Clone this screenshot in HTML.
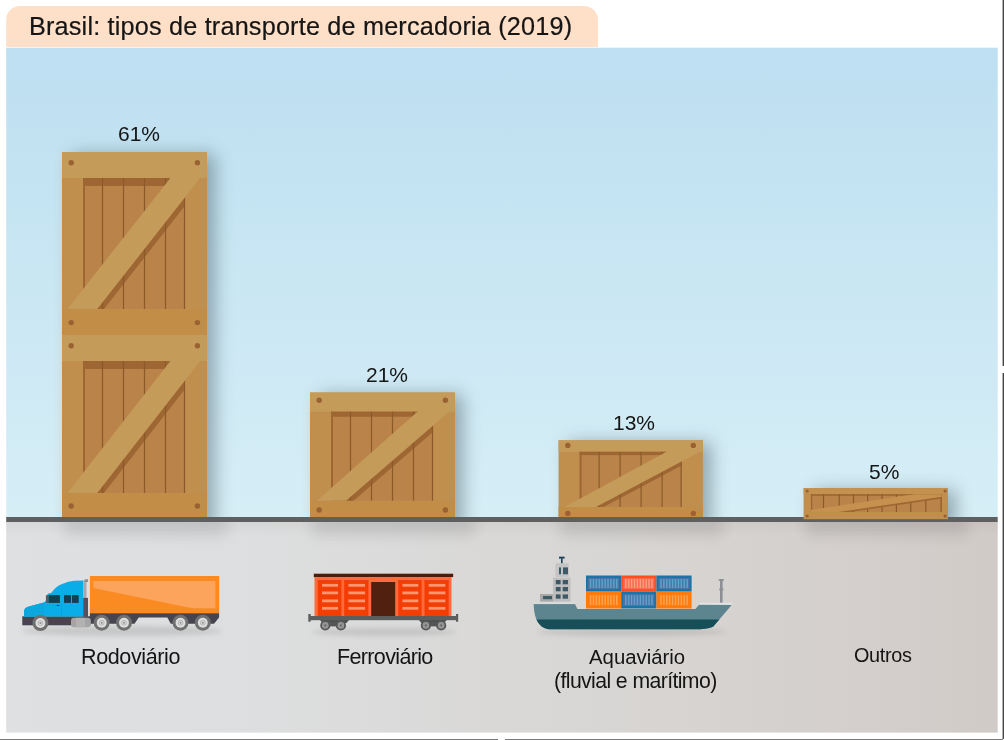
<!DOCTYPE html>
<html><head><meta charset="utf-8">
<style>
html,body{margin:0;padding:0;width:1004px;height:740px;overflow:hidden;background:#fff;}
body{position:relative;font-family:"Liberation Sans",sans-serif;color:#151515;}
.t{position:absolute;white-space:nowrap;line-height:1;will-change:transform;}
</style></head><body>
<svg width="1004" height="740" style="position:absolute;left:0;top:0">
<defs>
<linearGradient id="sky" x1="0" y1="0" x2="0" y2="1">
<stop offset="0" stop-color="#BDDFF1"/><stop offset="1" stop-color="#D6EEF6"/>
</linearGradient>
<linearGradient id="gnd" x1="0" y1="0" x2="1" y2="0">
<stop offset="0" stop-color="#DFE0E1"/><stop offset="0.25" stop-color="#DDDEDF"/><stop offset="0.6" stop-color="#D8D6D4"/><stop offset="1" stop-color="#D1CBC8"/>
</linearGradient>
<linearGradient id="gsh" x1="0" y1="0" x2="0" y2="1">
<stop offset="0" stop-color="#000" stop-opacity="0.04"/><stop offset="1" stop-color="#000" stop-opacity="0"/>
</linearGradient>
<filter id="blur6" x="-50%" y="-50%" width="200%" height="200%"><feGaussianBlur stdDeviation="6"/></filter>
<filter id="blur8" x="-50%" y="-100%" width="200%" height="300%"><feGaussianBlur stdDeviation="7"/></filter><filter id="blur9" x="-50%" y="-50%" width="200%" height="200%"><feGaussianBlur stdDeviation="9"/></filter><filter id="blur3" x="-50%" y="-200%" width="200%" height="500%"><feGaussianBlur stdDeviation="2.5"/></filter>
<clipPath id="skyclip"><rect x="6" y="47" width="991" height="470"/></clipPath><clipPath id="gndclip"><rect x="6" y="522" width="991" height="211"/></clipPath>
</defs>
<path d="M6.2,47 V20 A14,14 0 0 1 20.2,6 H584 A14,14 0 0 1 598,20 V47 Z" fill="#FEDFC8"/>
<rect x="6.2" y="47.7" width="991.5" height="469.3" fill="url(#sky)"/>
<rect x="6.2" y="522" width="991.5" height="210.6" fill="url(#gnd)"/>
<rect x="6.2" y="522" width="991.5" height="14" fill="url(#gsh)"/>
<rect x="6.2" y="517" width="991.5" height="5" fill="#5F5F5F"/>
<rect x="1002.6" y="0" width="1.4" height="366" fill="#444"/>
<rect x="1002.6" y="373" width="1.4" height="366" fill="#444"/>
<rect x="0" y="739" width="498" height="1" fill="#7a7a7a"/>
<rect x="505" y="739" width="498" height="1" fill="#7a7a7a"/>
<rect x="72" y="154" width="143" height="377" fill="#34474F" opacity="0.42" filter="url(#blur9)" clip-path="url(#skyclip)"/><rect x="64" y="512" width="163" height="24" fill="#000" opacity="0.09" filter="url(#blur8)" clip-path="url(#gndclip)"/>
<rect x="320" y="394.5" width="143" height="136.5" fill="#34474F" opacity="0.42" filter="url(#blur9)" clip-path="url(#skyclip)"/><rect x="312" y="512" width="163" height="24" fill="#000" opacity="0.09" filter="url(#blur8)" clip-path="url(#gndclip)"/>
<rect x="568.2" y="442.3" width="143" height="88.7" fill="#34474F" opacity="0.42" filter="url(#blur9)" clip-path="url(#skyclip)"/><rect x="560.2" y="512" width="163" height="24" fill="#000" opacity="0.09" filter="url(#blur8)" clip-path="url(#gndclip)"/>
<rect x="813.6" y="490.1" width="142.4" height="42" fill="#34474F" opacity="0.42" filter="url(#blur9)" clip-path="url(#skyclip)"/><rect x="805.6" y="512" width="162.4" height="24" fill="#000" opacity="0.09" filter="url(#blur8)" clip-path="url(#gndclip)"/>
<rect x="62" y="152" width="145" height="183" fill="#C08F4E"/>
<rect x="62" y="152" width="145" height="26" fill="#C59B5A"/>
<rect x="62" y="309" width="145" height="26" fill="#C18D47"/>
<rect x="83" y="178" width="102" height="131" fill="#B98349"/>
<rect x="83" y="178" width="102" height="8" fill="#9D6633"/>
<rect x="83" y="178" width="2" height="131" fill="#9D6633"/>
<clipPath id="c62152"><rect x="83" y="178" width="102" height="131"/></clipPath>
<polygon clip-path="url(#c62152)" points="170.4,186.5 200.2,186.5 97.3,317.5 67.4,317.5" fill="#9D6633"/>
<rect x="101.9" y="178" width="1.2" height="131" fill="#8C5A2A"/>
<rect x="122.9" y="178" width="1.2" height="131" fill="#8C5A2A"/>
<rect x="143.9" y="178" width="1.2" height="131" fill="#8C5A2A"/>
<rect x="164.9" y="178" width="1.2" height="131" fill="#8C5A2A"/>
<rect x="183.9" y="178" width="1.2" height="131" fill="#8C5A2A"/>
<polygon points="171.19,177 200.99,177 97.3,309 67.4,309" fill="#C59B5A"/>
<circle cx="71.2" cy="162.8" r="2.7" fill="#9A6232"/>
<circle cx="71.2" cy="322.6" r="2.7" fill="#9A6232"/>
<circle cx="197.4" cy="162.8" r="2.7" fill="#9A6232"/>
<circle cx="197.4" cy="322.6" r="2.7" fill="#9A6232"/>
<rect x="62" y="335" width="145" height="182" fill="#C08F4E"/>
<rect x="62" y="335" width="145" height="26" fill="#C59B5A"/>
<rect x="62" y="493" width="145" height="24" fill="#C18D47"/>
<rect x="83" y="361" width="102" height="132" fill="#B98349"/>
<rect x="83" y="361" width="102" height="8" fill="#9D6633"/>
<rect x="83" y="361" width="2" height="132" fill="#9D6633"/>
<clipPath id="c62335"><rect x="83" y="361" width="102" height="132"/></clipPath>
<polygon clip-path="url(#c62335)" points="170.4,369.5 200.2,369.5 97.3,501.5 67.4,501.5" fill="#9D6633"/>
<rect x="101.9" y="361" width="1.2" height="132" fill="#8C5A2A"/>
<rect x="122.9" y="361" width="1.2" height="132" fill="#8C5A2A"/>
<rect x="143.9" y="361" width="1.2" height="132" fill="#8C5A2A"/>
<rect x="164.9" y="361" width="1.2" height="132" fill="#8C5A2A"/>
<rect x="183.9" y="361" width="1.2" height="132" fill="#8C5A2A"/>
<polygon points="171.18,360 200.98,360 97.3,493 67.4,493" fill="#C59B5A"/>
<circle cx="71.2" cy="345.8" r="2.7" fill="#9A6232"/>
<circle cx="71.2" cy="506" r="2.7" fill="#9A6232"/>
<circle cx="197.4" cy="345.8" r="2.7" fill="#9A6232"/>
<circle cx="197.4" cy="506" r="2.7" fill="#9A6232"/>
<rect x="310" y="392.5" width="145" height="124.5" fill="#C08F4E"/>
<rect x="310" y="392.5" width="145" height="19.2" fill="#C59B5A"/>
<rect x="310" y="500.7" width="145" height="16.3" fill="#C18D47"/>
<rect x="331" y="411.7" width="102" height="89.0" fill="#B98349"/>
<rect x="331" y="411.7" width="102" height="5" fill="#9D6633"/>
<rect x="331" y="411.7" width="2" height="89.0" fill="#9D6633"/>
<clipPath id="c310392"><rect x="331" y="411.7" width="102" height="89.0"/></clipPath>
<polygon clip-path="url(#c310392)" points="417.4,418.2 449.1,418.2 346,507.2 316.8,507.2" fill="#9D6633"/>
<rect x="349.9" y="411.7" width="1.2" height="89.0" fill="#8C5A2A"/>
<rect x="370.9" y="411.7" width="1.2" height="89.0" fill="#8C5A2A"/>
<rect x="391.9" y="411.7" width="1.2" height="89.0" fill="#8C5A2A"/>
<rect x="412.9" y="411.7" width="1.2" height="89.0" fill="#8C5A2A"/>
<rect x="431.9" y="411.7" width="1.2" height="89.0" fill="#8C5A2A"/>
<polygon points="418.53,410.7 450.26,410.7 346,500.7 316.8,500.7" fill="#C59B5A"/>
<circle cx="319.2" cy="400.2" r="2.7" fill="#9A6232"/>
<circle cx="319.2" cy="510.0" r="2.7" fill="#9A6232"/>
<circle cx="445.4" cy="400.2" r="2.7" fill="#9A6232"/>
<circle cx="445.4" cy="510.0" r="2.7" fill="#9A6232"/>
<rect x="558.6" y="440.3" width="144.3" height="76.7" fill="#C08F4E"/>
<rect x="558.6" y="440.3" width="144.3" height="11.5" fill="#C59B5A"/>
<rect x="558.6" y="507.0" width="144.3" height="10" fill="#C18D47"/>
<rect x="579.6" y="451.8" width="102.0" height="55.19999999999999" fill="#B98349"/>
<rect x="579.6" y="451.8" width="102.0" height="3.3" fill="#9D6633"/>
<rect x="579.6" y="451.8" width="2" height="55.19999999999999" fill="#9D6633"/>
<clipPath id="c558440"><rect x="579.6" y="451.8" width="102.0" height="55.19999999999999"/></clipPath>
<polygon clip-path="url(#c558440)" points="666.5,455.8 699.9000000000001,455.8 596.0,511.0 564.6,511.0" fill="#9D6633"/>
<rect x="598.5" y="451.8" width="1.2" height="55.19999999999999" fill="#8C5A2A"/>
<rect x="619.5" y="451.8" width="1.2" height="55.19999999999999" fill="#8C5A2A"/>
<rect x="640.5" y="451.8" width="1.2" height="55.19999999999999" fill="#8C5A2A"/>
<rect x="661.5" y="451.8" width="1.2" height="55.19999999999999" fill="#8C5A2A"/>
<rect x="680.5" y="451.8" width="1.2" height="55.19999999999999" fill="#8C5A2A"/>
<polygon points="668.35,450.8 701.78,450.8 596.0,507.0 564.6,507.0" fill="#C59B5A"/>
<circle cx="567.8000000000001" cy="445.40000000000003" r="2.7" fill="#9A6232"/>
<circle cx="567.8000000000001" cy="513.4" r="2.7" fill="#9A6232"/>
<circle cx="693.3000000000001" cy="445.40000000000003" r="2.7" fill="#9A6232"/>
<circle cx="693.3000000000001" cy="513.4" r="2.7" fill="#9A6232"/>
<rect x="803.6" y="488.1" width="144.39999999999998" height="31.100000000000023" fill="#C18E4B"/>
<rect x="803.6" y="488.1" width="144.39999999999998" height="6.099999999999966" fill="#C4914F"/>
<rect x="810.9" y="494.2" width="130.80000000000007" height="17.80000000000001" fill="#B98349"/>
<rect x="810.9" y="494.2" width="130.80000000000007" height="1.6" fill="#9D6633"/>
<rect x="810.9" y="494.2" width="1.4" height="17.80000000000001" fill="#9D6633"/>
<rect x="822.9" y="494.2" width="1.2" height="17.80000000000001" fill="#8C5A2A"/>
<rect x="838.6" y="494.2" width="1.2" height="17.80000000000001" fill="#8C5A2A"/>
<rect x="852.9" y="494.2" width="1.2" height="17.80000000000001" fill="#8C5A2A"/>
<rect x="867.0" y="494.2" width="1.2" height="17.80000000000001" fill="#8C5A2A"/>
<rect x="881.5" y="494.2" width="1.2" height="17.80000000000001" fill="#8C5A2A"/>
<rect x="895.8" y="494.2" width="1.2" height="17.80000000000001" fill="#8C5A2A"/>
<rect x="910.1999999999999" y="494.2" width="1.2" height="17.80000000000001" fill="#8C5A2A"/>
<rect x="925.1999999999999" y="494.2" width="1.2" height="17.80000000000001" fill="#8C5A2A"/>
<rect x="940.5" y="494.2" width="1.2" height="17.80000000000001" fill="#8C5A2A"/>
<clipPath id="c4"><rect x="810.9" y="494.2" width="130.8" height="17.8"/></clipPath>
<polygon clip-path="url(#c4)" points="803.6,512.5 948,490.5 948,497.5 803.6,518.8" fill="#9D6633"/>
<polygon clip-path="url(#c4)" points="803.6,511 948,489 948,495.9 803.6,517.2" fill="#C4914F"/>
<circle cx="807.2" cy="491.1" r="1.6" fill="#9A6232"/>
<circle cx="807.2" cy="516" r="1.6" fill="#9A6232"/>
<circle cx="945.1" cy="491.1" r="1.6" fill="#9A6232"/>
<circle cx="945.1" cy="516" r="1.6" fill="#9A6232"/>

<ellipse cx="122" cy="631" rx="100" ry="5" fill="#9a9a9a" opacity="0.35" filter="url(#blur3)"/>
<rect x="89.9" y="576" width="129.3" height="37.5" fill="#F98B22"/>
<path d="M93.4,580.9 H215.4 V608.3 H194 Q190,608 186,607 L93.4,588 Z" fill="#FCA45C"/>
<path d="M89.9,613.2 H219.1 V617.5 L214,623.7 H170.8 L167.3,617.5 H138.7 L134.5,623.7 H89.9 Z" fill="#45444F"/>
<rect x="22.3" y="616.3" width="68" height="9" fill="#45444F"/>
<path d="M24.1,616.5 V611 Q24.5,607.8 28,606.8 L43.8,602.4 Q46,601.5 46.6,599 L47.6,594 Q48.5,593 51.2,593 Q56,586 62.2,583.9 Q68,581.3 74.3,580.8 L83.5,580.5 V616.5 Z" fill="#0AADE8"/>
<path d="M24.1,616.5 V611 Q24.5,607.8 28,606.8 L43.8,602.4 V616.5 Z" fill="#0CA7DF"/>
<rect x="61.3" y="602.5" width="0.6" height="14" fill="#0A9DD3"/>
<rect x="48.4" y="595.1" width="11.5" height="7.8" fill="#123F50"/>
<rect x="64" y="595.1" width="7" height="7.8" fill="#123F50"/>
<rect x="72" y="595.1" width="6.7" height="7.8" fill="#123F50"/>
<rect x="45.9" y="595" width="2.6" height="7.9" rx="1" fill="#5D5A66"/>
<ellipse cx="58" cy="605.5" rx="1.7" ry="0.6" fill="#123F50"/>
<rect x="84" y="580.5" width="2.5" height="18" fill="#A8A8A8"/>
<path d="M84,581.5 L85,579.3 H88 V582 H86.5 Z" fill="#8E8E8E"/>
<rect x="83.2" y="597.9" width="4.8" height="19" fill="#55505C"/>
<rect x="71" y="617.8" width="19.8" height="9.4" rx="3" fill="#A5A5A5"/>
<rect x="76" y="617.8" width="9" height="9.4" fill="#B2B2B2"/>
<circle cx="40.4" cy="623" r="8" fill="#707070"/><circle cx="40.4" cy="623" r="4.96" fill="#DEDEDE"/><circle cx="40.4" cy="623" r="2.4" fill="none" stroke="#A8A8A8" stroke-width="0.8"/><circle cx="40.4" cy="623" r="0.96" fill="#8A8A8A"/><circle cx="101.7" cy="622.7" r="8" fill="#707070"/><circle cx="101.7" cy="622.7" r="4.96" fill="#DEDEDE"/><circle cx="101.7" cy="622.7" r="2.4" fill="none" stroke="#A8A8A8" stroke-width="0.8"/><circle cx="101.7" cy="622.7" r="0.96" fill="#8A8A8A"/><circle cx="124" cy="622.7" r="8" fill="#707070"/><circle cx="124" cy="622.7" r="4.96" fill="#DEDEDE"/><circle cx="124" cy="622.7" r="2.4" fill="none" stroke="#A8A8A8" stroke-width="0.8"/><circle cx="124" cy="622.7" r="0.96" fill="#8A8A8A"/><circle cx="180.5" cy="622.7" r="8" fill="#707070"/><circle cx="180.5" cy="622.7" r="4.96" fill="#DEDEDE"/><circle cx="180.5" cy="622.7" r="2.4" fill="none" stroke="#A8A8A8" stroke-width="0.8"/><circle cx="180.5" cy="622.7" r="0.96" fill="#8A8A8A"/><circle cx="202.8" cy="622.7" r="8" fill="#707070"/><circle cx="202.8" cy="622.7" r="4.96" fill="#DEDEDE"/><circle cx="202.8" cy="622.7" r="2.4" fill="none" stroke="#A8A8A8" stroke-width="0.8"/><circle cx="202.8" cy="622.7" r="0.96" fill="#8A8A8A"/>


<ellipse cx="384" cy="632" rx="72" ry="4" fill="#9a9a9a" opacity="0.35" filter="url(#blur3)"/>
<rect x="313.8" y="573.7" width="139.4" height="3.4" fill="#4E1C0A"/>
<rect x="314.5" y="577" width="137" height="39" fill="#FF6B3D"/>
<rect x="317.8" y="580.1" width="23.6" height="35.9" fill="#F43D02"/>
<rect x="344.2" y="580.1" width="24.2" height="35.9" fill="#F43D02"/>
<rect x="398.2" y="580.1" width="23.4" height="35.9" fill="#F43D02"/>
<rect x="424.5" y="580.1" width="24.2" height="35.9" fill="#F43D02"/>
<rect x="322.0" y="583.9" width="16.099999999999966" height="2.8" fill="#FF9672"/><rect x="322.0" y="591.5" width="16.099999999999966" height="2.8" fill="#FF9672"/><rect x="322.0" y="599.5" width="16.099999999999966" height="2.8" fill="#FF9672"/><rect x="322.0" y="606.9" width="16.099999999999966" height="2.8" fill="#FF9672"/><rect x="348.4" y="583.9" width="16.69999999999999" height="2.8" fill="#FF9672"/><rect x="348.4" y="591.5" width="16.69999999999999" height="2.8" fill="#FF9672"/><rect x="348.4" y="599.5" width="16.69999999999999" height="2.8" fill="#FF9672"/><rect x="348.4" y="606.9" width="16.69999999999999" height="2.8" fill="#FF9672"/><rect x="402.4" y="583.9" width="15.900000000000034" height="2.8" fill="#FF9672"/><rect x="402.4" y="591.5" width="15.900000000000034" height="2.8" fill="#FF9672"/><rect x="402.4" y="599.5" width="15.900000000000034" height="2.8" fill="#FF9672"/><rect x="402.4" y="606.9" width="15.900000000000034" height="2.8" fill="#FF9672"/><rect x="428.7" y="583.9" width="16.69999999999999" height="2.8" fill="#FF9672"/><rect x="428.7" y="591.5" width="16.69999999999999" height="2.8" fill="#FF9672"/><rect x="428.7" y="599.5" width="16.69999999999999" height="2.8" fill="#FF9672"/><rect x="428.7" y="606.9" width="16.69999999999999" height="2.8" fill="#FF9672"/>
<rect x="317.8" y="580.1" width="23.6" height="1.7" fill="#E4441C"/><rect x="344.2" y="580.1" width="24.2" height="1.7" fill="#E4441C"/><rect x="398.2" y="580.1" width="23.4" height="1.7" fill="#E4441C"/><rect x="424.5" y="580.1" width="24.2" height="1.7" fill="#E4441C"/>
<rect x="371.2" y="582" width="24" height="34" fill="#52200E"/>
<path d="M320,620 H349 L346.5,623 H322.5 Z" fill="#4F4F4F"/>
<path d="M418.8,620 H446.7 L444,623 H421.5 Z" fill="#4F4F4F"/>
<rect x="325" y="622" width="16" height="4.4" fill="#555"/>
<rect x="426" y="622" width="15.2" height="4.4" fill="#555"/>
<rect x="309.3" y="616" width="147" height="4.2" fill="#5C5E5E"/>
<rect x="308.3" y="614" width="2.4" height="7.7" fill="#5C5E5E"/>
<rect x="456" y="614" width="2.2" height="7.7" fill="#5C5E5E"/>
<circle cx="325.3" cy="625.4" r="5.1" fill="#575757"/><circle cx="325.3" cy="625.4" r="3.3" fill="#959595"/><circle cx="325.3" cy="625.4" r="1.1" fill="#6a6a6a"/><circle cx="340.9" cy="625.4" r="5.1" fill="#575757"/><circle cx="340.9" cy="625.4" r="3.3" fill="#959595"/><circle cx="340.9" cy="625.4" r="1.1" fill="#6a6a6a"/><circle cx="425.9" cy="625.4" r="5.1" fill="#575757"/><circle cx="425.9" cy="625.4" r="3.3" fill="#959595"/><circle cx="425.9" cy="625.4" r="1.1" fill="#6a6a6a"/><circle cx="441.2" cy="625.4" r="5.1" fill="#575757"/><circle cx="441.2" cy="625.4" r="3.3" fill="#959595"/><circle cx="441.2" cy="625.4" r="1.1" fill="#6a6a6a"/>

<ellipse cx="632" cy="632" rx="95" ry="4" fill="#9a9a9a" opacity="0.35" filter="url(#blur3)"/>
<path d="M555.4,563.2 H568.8 V577 H555.4 Z" fill="#C4C4C4"/>
<rect x="559" y="567.4" width="2" height="6.9" fill="#3E5966"/>
<rect x="563" y="567.4" width="5" height="6.9" fill="#3E5966"/>
<rect x="559" y="556.7" width="5.6" height="1.9" fill="#183F57"/>
<rect x="561" y="558.4" width="1.6" height="4.8" fill="#183F57"/>
<rect x="553" y="577" width="17.5" height="25" fill="#BEBEBE"/>
<rect x="553" y="577" width="17.5" height="1" fill="#CFCFCF"/>
<rect x="540" y="594" width="13" height="8" fill="#A9A9A9"/>
<rect x="543" y="596" width="9" height="3.2" fill="#3F5B66"/>
<rect x="555.8" y="580" width="4.8" height="4.3" fill="#3E5966"/><rect x="562.7" y="580" width="5.3" height="4.3" fill="#3E5966"/><rect x="555.8" y="587" width="4.8" height="4.3" fill="#3E5966"/><rect x="562.7" y="587" width="5.3" height="4.3" fill="#3E5966"/><rect x="555.8" y="594.4" width="4.8" height="4.3" fill="#3E5966"/><rect x="562.7" y="594.4" width="5.3" height="4.3" fill="#3E5966"/><rect x="586" y="575.5" width="35.200000000000045" height="16.100000000000023" fill="#1B74A8"/><rect x="588" y="578.0" width="31.200000000000045" height="11.100000000000023" fill="#4B74A6"/><rect x="589.80" y="579.0" width="1.5" height="9.100000000000023" fill="#5CA2CE"/><rect x="592.71" y="579.0" width="1.5" height="9.100000000000023" fill="#5CA2CE"/><rect x="595.62" y="579.0" width="1.5" height="9.100000000000023" fill="#5CA2CE"/><rect x="598.53" y="579.0" width="1.5" height="9.100000000000023" fill="#5CA2CE"/><rect x="601.44" y="579.0" width="1.5" height="9.100000000000023" fill="#5CA2CE"/><rect x="604.36" y="579.0" width="1.5" height="9.100000000000023" fill="#5CA2CE"/><rect x="607.27" y="579.0" width="1.5" height="9.100000000000023" fill="#5CA2CE"/><rect x="610.18" y="579.0" width="1.5" height="9.100000000000023" fill="#5CA2CE"/><rect x="613.09" y="579.0" width="1.5" height="9.100000000000023" fill="#5CA2CE"/><rect x="616.00" y="579.0" width="1.5" height="9.100000000000023" fill="#5CA2CE"/><rect x="621.2" y="575.5" width="35.19999999999993" height="16.100000000000023" fill="#FF4F20"/><rect x="623.2" y="578.0" width="31.199999999999932" height="11.100000000000023" fill="#F9694B"/><rect x="625.00" y="579.0" width="1.5" height="9.100000000000023" fill="#FF9C84"/><rect x="627.91" y="579.0" width="1.5" height="9.100000000000023" fill="#FF9C84"/><rect x="630.82" y="579.0" width="1.5" height="9.100000000000023" fill="#FF9C84"/><rect x="633.73" y="579.0" width="1.5" height="9.100000000000023" fill="#FF9C84"/><rect x="636.64" y="579.0" width="1.5" height="9.100000000000023" fill="#FF9C84"/><rect x="639.56" y="579.0" width="1.5" height="9.100000000000023" fill="#FF9C84"/><rect x="642.47" y="579.0" width="1.5" height="9.100000000000023" fill="#FF9C84"/><rect x="645.38" y="579.0" width="1.5" height="9.100000000000023" fill="#FF9C84"/><rect x="648.29" y="579.0" width="1.5" height="9.100000000000023" fill="#FF9C84"/><rect x="651.20" y="579.0" width="1.5" height="9.100000000000023" fill="#FF9C84"/><rect x="656.4" y="575.5" width="35.200000000000045" height="16.100000000000023" fill="#1B74A8"/><rect x="658.4" y="578.0" width="31.200000000000045" height="11.100000000000023" fill="#4B74A6"/><rect x="660.20" y="579.0" width="1.5" height="9.100000000000023" fill="#5CA2CE"/><rect x="663.11" y="579.0" width="1.5" height="9.100000000000023" fill="#5CA2CE"/><rect x="666.02" y="579.0" width="1.5" height="9.100000000000023" fill="#5CA2CE"/><rect x="668.93" y="579.0" width="1.5" height="9.100000000000023" fill="#5CA2CE"/><rect x="671.84" y="579.0" width="1.5" height="9.100000000000023" fill="#5CA2CE"/><rect x="674.76" y="579.0" width="1.5" height="9.100000000000023" fill="#5CA2CE"/><rect x="677.67" y="579.0" width="1.5" height="9.100000000000023" fill="#5CA2CE"/><rect x="680.58" y="579.0" width="1.5" height="9.100000000000023" fill="#5CA2CE"/><rect x="683.49" y="579.0" width="1.5" height="9.100000000000023" fill="#5CA2CE"/><rect x="686.40" y="579.0" width="1.5" height="9.100000000000023" fill="#5CA2CE"/><rect x="586" y="591.6" width="35.200000000000045" height="16.899999999999977" fill="#FF7B0C"/><rect x="588" y="594.1" width="31.200000000000045" height="11.899999999999977" fill="#FF7B0C"/><rect x="589.80" y="595.1" width="1.5" height="9.899999999999977" fill="#FFA352"/><rect x="592.71" y="595.1" width="1.5" height="9.899999999999977" fill="#FFA352"/><rect x="595.62" y="595.1" width="1.5" height="9.899999999999977" fill="#FFA352"/><rect x="598.53" y="595.1" width="1.5" height="9.899999999999977" fill="#FFA352"/><rect x="601.44" y="595.1" width="1.5" height="9.899999999999977" fill="#FFA352"/><rect x="604.36" y="595.1" width="1.5" height="9.899999999999977" fill="#FFA352"/><rect x="607.27" y="595.1" width="1.5" height="9.899999999999977" fill="#FFA352"/><rect x="610.18" y="595.1" width="1.5" height="9.899999999999977" fill="#FFA352"/><rect x="613.09" y="595.1" width="1.5" height="9.899999999999977" fill="#FFA352"/><rect x="616.00" y="595.1" width="1.5" height="9.899999999999977" fill="#FFA352"/><rect x="621.2" y="591.6" width="35.19999999999993" height="16.899999999999977" fill="#1B74A8"/><rect x="623.2" y="594.1" width="31.199999999999932" height="11.899999999999977" fill="#4B74A6"/><rect x="625.00" y="595.1" width="1.5" height="9.899999999999977" fill="#5CA2CE"/><rect x="627.91" y="595.1" width="1.5" height="9.899999999999977" fill="#5CA2CE"/><rect x="630.82" y="595.1" width="1.5" height="9.899999999999977" fill="#5CA2CE"/><rect x="633.73" y="595.1" width="1.5" height="9.899999999999977" fill="#5CA2CE"/><rect x="636.64" y="595.1" width="1.5" height="9.899999999999977" fill="#5CA2CE"/><rect x="639.56" y="595.1" width="1.5" height="9.899999999999977" fill="#5CA2CE"/><rect x="642.47" y="595.1" width="1.5" height="9.899999999999977" fill="#5CA2CE"/><rect x="645.38" y="595.1" width="1.5" height="9.899999999999977" fill="#5CA2CE"/><rect x="648.29" y="595.1" width="1.5" height="9.899999999999977" fill="#5CA2CE"/><rect x="651.20" y="595.1" width="1.5" height="9.899999999999977" fill="#5CA2CE"/><rect x="656.4" y="591.6" width="35.200000000000045" height="16.899999999999977" fill="#FF7B0C"/><rect x="658.4" y="594.1" width="31.200000000000045" height="11.899999999999977" fill="#FF7B0C"/><rect x="660.20" y="595.1" width="1.5" height="9.899999999999977" fill="#FFA352"/><rect x="663.11" y="595.1" width="1.5" height="9.899999999999977" fill="#FFA352"/><rect x="666.02" y="595.1" width="1.5" height="9.899999999999977" fill="#FFA352"/><rect x="668.93" y="595.1" width="1.5" height="9.899999999999977" fill="#FFA352"/><rect x="671.84" y="595.1" width="1.5" height="9.899999999999977" fill="#FFA352"/><rect x="674.76" y="595.1" width="1.5" height="9.899999999999977" fill="#FFA352"/><rect x="677.67" y="595.1" width="1.5" height="9.899999999999977" fill="#FFA352"/><rect x="680.58" y="595.1" width="1.5" height="9.899999999999977" fill="#FFA352"/><rect x="683.49" y="595.1" width="1.5" height="9.899999999999977" fill="#FFA352"/><rect x="686.40" y="595.1" width="1.5" height="9.899999999999977" fill="#FFA352"/>
<rect x="720" y="579.3" width="2.6" height="23.5" fill="#8E8E96"/>
<rect x="718.8" y="579" width="5" height="1.8" fill="#8E8E96"/>
<rect x="719.3" y="588.4" width="4" height="2" fill="#8E8E96"/>
<clipPath id="hull"><path d="M533.7,604 H575 L577.4,608.9 H695.3 L699.4,604.5 L731.7,604.9 L713.1,626.7 Q706,629.3 695,629.3 H549 C540.5,628.3 534,621 533.7,604 Z"/></clipPath>
<path d="M533.7,604 H575 L577.4,608.9 H695.3 L699.4,604.5 L731.7,604.9 L713.1,626.7 Q706,629.3 695,629.3 H549 C540.5,628.3 534,621 533.7,604 Z" fill="#5C8590"/>
<rect x="520" y="619.5" width="230" height="12" fill="#164F58" clip-path="url(#hull)"/>
<rect x="533.7" y="601.7" width="41.5" height="2.4" fill="#D9DBDB"/>
<rect x="699.4" y="602.8" width="32.3" height="1.8" fill="#E2E4E4"/>

</svg>
<div class="t" style="left:29.0px;top:14.0px;font-size:25.22px;letter-spacing:0.191px;-webkit-text-stroke:0.2px #151515">Brasil: tipos de transporte de mercadoria (2019)</div>
<div class="t" style="left:117.75px;top:123.0px;font-size:21px;letter-spacing:0px;-webkit-text-stroke:0px #151515">61%</div>
<div class="t" style="left:366.15px;top:363.75px;font-size:21px;letter-spacing:0px;-webkit-text-stroke:0px #151515">21%</div>
<div class="t" style="left:613.3px;top:412.25px;font-size:21px;letter-spacing:0px;-webkit-text-stroke:0px #151515">13%</div>
<div class="t" style="left:868.65px;top:461.25px;font-size:21px;letter-spacing:0px;-webkit-text-stroke:0px #151515">5%</div>
<div class="t" style="left:81.0px;top:646.75px;font-size:21.53px;letter-spacing:-0.389px;-webkit-text-stroke:0px #151515">Rodoviário</div>
<div class="t" style="left:337.0px;top:646.75px;font-size:21.53px;letter-spacing:-0.65px;-webkit-text-stroke:0px #151515">Ferroviário</div>
<div class="t" style="left:588.5px;top:646.75px;font-size:20.35px;letter-spacing:0.0px;-webkit-text-stroke:0px #151515">Aquaviário</div>
<div class="t" style="left:554.0px;top:671.25px;font-size:21.26px;letter-spacing:-0.605px;-webkit-text-stroke:0px #151515">(fluvial e marítimo)</div>
<div class="t" style="left:854.0px;top:645.75px;font-size:19.84px;letter-spacing:-0.3px;-webkit-text-stroke:0px #151515">Outros</div>
</body></html>
